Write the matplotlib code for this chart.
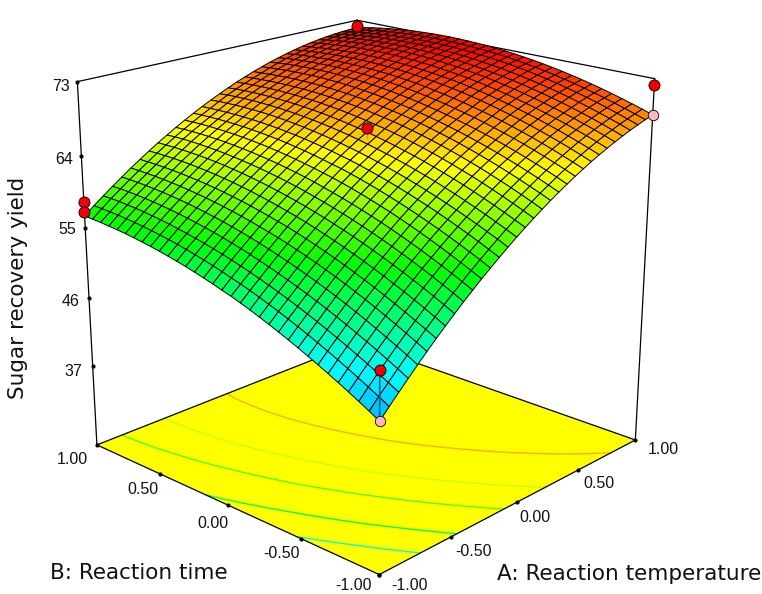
import numpy as np, matplotlib
matplotlib.use('Agg')
import matplotlib.pyplot as plt
from matplotlib.colors import LinearSegmentedColormap
plt.rcParams['font.family']=['Liberation Sans','DejaVu Sans']

a_grid=[-1,-.9375,-.875,-.8125,-.75,-.6875,-.625,-.5625,-.5,-.4375,-.375,-.3125,-.25,-.1875,-.125,-.0625,0,.0625,.125,.1875,.25,.3125,.375,.4375,.5,.5625,.625,.6875,.75,.8125,.875,.9375,1]
b_grid=list(a_grid)
# Estimated sugar recovery yield; one row per B value, one column per A value
yield_grid=[
[44.50,45.70,46.87,48.01,49.13,50.22,51.28,52.30,53.30,54.27,55.21,56.13,57.00,57.86,58.68,59.49,60.25,60.99,61.70,62.38,63.03,63.65,64.25,64.81,65.36,65.86,66.33,66.79,67.20,67.60,67.96,68.30,68.60],
[45.19,46.39,47.55,48.68,49.79,50.87,51.92,52.94,53.93,54.89,55.82,56.73,57.60,58.44,59.26,60.05,60.81,61.55,62.24,62.92,63.55,64.17,64.76,65.31,65.85,66.34,66.81,67.26,67.66,68.05,68.40,68.73,69.03],
[45.86,47.05,48.19,49.32,50.42,51.50,52.53,53.54,54.53,55.48,56.40,57.30,58.16,59.00,59.80,60.59,61.34,62.07,62.76,63.42,64.05,64.66,65.24,65.78,66.31,66.80,67.26,67.69,68.09,68.47,68.82,69.13,69.42],
[46.51,47.69,48.82,49.95,51.04,52.11,53.13,54.13,55.11,56.06,56.97,57.86,58.71,59.54,60.33,61.11,61.86,62.58,63.26,63.91,64.53,65.13,65.71,66.24,66.76,67.24,67.69,68.11,68.51,68.88,69.22,69.52,69.80],
[47.14,48.31,49.43,50.55,51.63,52.70,53.71,54.70,55.67,56.61,57.51,58.40,59.24,60.06,60.84,61.61,62.35,63.07,63.74,64.38,64.99,65.58,66.15,66.67,67.19,67.66,68.10,68.51,68.90,69.26,69.60,69.89,70.16],
[47.75,48.91,50.02,51.13,52.21,53.27,54.27,55.25,56.21,57.14,58.04,58.92,59.75,60.56,61.33,62.09,62.83,63.54,64.20,64.83,65.43,66.01,66.58,67.09,67.60,68.06,68.49,68.89,69.27,69.63,69.96,70.24,70.50],
[48.34,49.49,50.59,51.69,52.77,53.82,54.81,55.78,56.73,57.65,58.54,59.42,60.24,61.04,61.80,62.55,63.28,63.99,64.64,65.26,65.85,66.42,66.98,67.49,67.99,68.44,68.86,69.25,69.62,69.98,70.30,70.57,70.82],
[48.91,50.05,51.14,52.23,53.30,54.35,55.33,56.29,57.23,58.14,59.02,59.90,60.71,61.50,62.25,62.99,63.71,64.41,65.06,65.67,66.25,66.81,67.36,67.86,68.36,68.80,69.21,69.59,69.95,70.30,70.62,70.88,71.12],
[49.46,50.59,51.67,52.75,53.82,54.86,55.83,56.78,57.71,58.61,59.48,60.36,61.16,61.94,62.68,63.41,64.12,64.82,65.46,66.06,66.63,67.18,67.72,68.22,68.71,69.14,69.54,69.91,70.26,70.60,70.92,71.17,71.40],
[49.99,51.11,52.18,53.25,54.31,55.35,56.31,57.25,58.17,59.06,59.92,60.80,61.59,62.36,63.09,63.81,64.51,65.21,65.84,66.43,66.99,67.53,68.06,68.55,69.04,69.46,69.85,70.21,70.55,70.88,71.20,71.44,71.66],
[50.50,51.61,52.67,53.73,54.78,55.81,56.77,57.70,58.61,59.49,60.34,61.21,62.00,62.76,63.48,64.19,64.88,65.57,66.20,66.78,67.33,67.86,68.38,68.86,69.35,69.76,70.14,70.49,70.82,71.14,71.45,71.69,71.90],
[50.99,52.09,53.14,54.19,55.23,56.26,57.21,58.13,59.03,59.90,60.74,61.61,62.39,63.14,63.85,64.55,65.23,65.92,66.54,67.11,67.65,68.17,68.68,69.15,69.64,70.04,70.41,70.75,71.07,71.38,71.69,71.92,72.12],
[51.46,52.55,53.59,54.63,55.66,56.68,57.63,58.54,59.43,60.29,61.12,61.98,62.76,63.50,64.20,64.89,65.56,66.24,66.85,67.42,67.95,68.46,68.96,69.42,69.90,70.30,70.66,70.99,71.30,71.60,71.90,72.13,72.32],
[51.91,52.99,54.02,55.05,56.07,57.09,58.03,58.93,59.81,60.66,61.48,62.34,63.11,63.84,64.53,65.21,65.87,66.55,67.15,67.71,68.23,68.73,69.22,69.67,70.15,70.54,70.89,71.21,71.51,71.80,72.10,72.32,72.50],
[52.34,53.41,54.43,55.45,56.46,57.47,58.41,59.30,60.17,61.01,61.82,62.67,63.44,64.16,64.84,65.51,66.16,66.83,67.42,67.98,68.49,68.98,69.46,69.90,70.37,70.76,71.10,71.41,71.70,71.98,72.27,72.49,72.66],
[52.75,53.81,54.82,55.83,56.83,57.83,58.77,59.65,60.51,61.34,62.14,62.98,63.75,64.46,65.13,65.79,66.43,67.09,67.67,68.23,68.73,69.21,69.68,70.11,70.57,70.96,71.29,71.59,71.87,72.14,72.42,72.64,72.80],
[53.10,54.17,55.20,56.21,57.19,58.15,59.07,59.96,60.83,61.66,62.47,63.25,63.99,64.71,65.40,66.07,66.70,67.31,67.88,68.43,68.94,69.43,69.89,70.32,70.73,71.10,71.44,71.76,72.04,72.30,72.53,72.73,72.90],
[53.47,54.53,55.55,56.55,57.52,58.47,59.39,60.27,61.13,61.95,62.75,63.52,64.26,64.97,65.65,66.31,66.93,67.53,68.09,68.64,69.14,69.62,70.07,70.49,70.89,71.26,71.59,71.90,72.17,72.42,72.64,72.84,73.00],
[53.81,54.87,55.88,56.87,57.83,58.77,59.68,60.56,61.41,62.22,63.01,63.77,64.50,65.20,65.88,66.53,67.14,67.73,68.28,68.82,69.32,69.79,70.23,70.64,71.03,71.39,71.72,72.02,72.28,72.52,72.73,72.92,73.08],
[54.14,55.19,56.19,57.17,58.12,59.05,59.96,60.83,61.67,62.47,63.25,64.00,64.73,65.42,66.09,66.73,67.33,67.91,68.45,68.99,69.48,69.94,70.37,70.77,71.15,71.51,71.83,72.12,72.37,72.60,72.80,72.99,73.14],
[54.44,55.49,56.48,57.45,58.39,59.31,60.21,61.08,61.91,62.70,63.47,64.21,64.93,65.61,66.28,66.91,67.50,68.07,68.60,69.13,69.62,70.07,70.49,70.88,71.25,71.60,71.92,72.20,72.44,72.66,72.85,73.03,73.18],
[54.72,55.77,56.75,57.71,58.64,59.55,60.44,61.31,62.13,62.91,63.67,64.40,65.11,65.78,66.45,67.07,67.65,68.21,68.73,69.25,69.74,70.18,70.59,70.97,71.33,71.67,71.99,72.26,72.49,72.70,72.88,73.05,73.20],
[54.98,56.03,57.00,57.95,58.87,59.77,60.65,61.52,62.33,63.10,63.85,64.57,65.27,65.93,66.60,67.21,67.78,68.33,68.84,69.35,69.84,70.27,70.67,71.04,71.39,71.72,72.04,72.30,72.52,72.72,72.89,73.05,73.20],
[55.22,56.26,57.23,58.17,59.08,59.97,60.84,61.70,62.51,63.27,64.01,64.72,65.41,66.06,66.73,67.33,67.89,68.43,68.93,69.43,69.91,70.34,70.73,71.09,71.43,71.75,72.06,72.32,72.53,72.72,72.88,73.03,73.17],
[55.44,56.48,57.44,58.37,59.27,60.15,61.01,61.87,62.67,63.42,64.15,64.85,65.53,66.17,66.84,67.43,67.98,68.51,69.00,69.49,69.97,70.39,70.77,71.12,71.45,71.76,72.07,72.32,72.52,72.70,72.85,72.99,73.13],
[55.64,56.67,57.63,58.55,59.44,60.31,61.16,62.01,62.81,63.55,64.27,64.96,65.63,66.26,66.93,67.51,68.05,68.57,69.05,69.53,70.00,70.42,70.79,71.13,71.45,71.75,72.05,72.30,72.49,72.66,72.80,72.93,73.06],
[55.82,56.84,57.80,58.71,59.59,60.45,61.29,62.13,62.92,63.66,64.37,65.05,65.71,66.33,66.99,67.57,68.10,68.61,69.08,69.55,70.01,70.42,70.79,71.12,71.43,71.72,72.01,72.25,72.44,72.60,72.73,72.85,72.97],
[55.98,56.99,57.95,58.85,59.72,60.57,61.40,62.23,63.01,63.75,64.45,65.12,65.77,66.38,67.03,67.61,68.13,68.63,69.09,69.55,70.00,70.41,70.77,71.09,71.39,71.67,71.95,72.19,72.37,72.52,72.64,72.75,72.86],
[56.12,57.12,58.07,58.97,59.83,60.67,61.49,62.31,63.08,63.82,64.51,65.17,65.81,66.41,67.05,67.63,68.14,68.63,69.08,69.53,69.97,70.37,70.73,71.04,71.33,71.60,71.87,72.10,72.28,72.42,72.53,72.63,72.73],
[56.24,57.23,58.18,59.07,59.92,60.75,61.56,62.37,63.13,63.87,64.55,65.20,65.83,66.42,67.05,67.63,68.13,68.61,69.05,69.49,69.92,70.32,70.67,70.97,71.25,71.51,71.77,71.99,72.17,72.30,72.40,72.49,72.58],
[56.34,57.32,58.26,59.15,59.99,60.81,61.61,62.41,63.16,63.90,64.57,65.21,65.83,66.41,67.03,67.60,68.10,68.57,69.00,69.43,69.85,70.24,70.59,70.88,71.15,71.40,71.65,71.86,72.04,72.16,72.25,72.33,72.41],
[56.42,57.39,58.32,59.20,60.04,60.85,61.64,62.43,63.17,63.90,64.57,65.20,65.81,66.38,66.99,67.55,68.05,68.51,68.93,69.35,69.76,70.14,70.49,70.77,71.03,71.27,71.51,71.71,71.89,72.00,72.08,72.15,72.22],
[56.50,57.44,58.33,59.21,60.05,60.88,61.66,62.42,63.16,63.85,64.53,65.17,65.78,66.36,66.92,67.45,67.95,68.43,68.86,69.28,69.65,70.01,70.33,70.63,70.90,71.14,71.35,71.53,71.68,71.80,71.90,71.96,72.00],
]
z_floor=26.3; z_top=73
z_ticks=[73,64,55,46,37]
xy_ticks=[-1,-.5,0,.5,1]
contour_levels=[49.7,54,59,62.8,67.4]
red_pts=[(-1,1,58.2),(-1,1,57.0),(1,-1,72.2),(1,1,72.2),(-1,-1,50.3),(0,0,67.2)]
pink_pts=[(1,-1,68.6),(-1,-1,44.5)]

W,H=762,594
fig=plt.figure(figsize=(W/100,H/100),dpi=100)
ax=fig.add_subplot(111,projection='3d',computed_zorder=False)
ax.set_xlim(-1,1,view_margin=0);ax.set_ylim(-1,1,view_margin=0);ax.set_zlim(z_floor,z_top,view_margin=0)
ax.set_axis_off()
ax.view_init(19.522,-136.752)
ax.set_proj_type('persp',focal_length=0.574)
ax.set_box_aspect((1,1.018,0.983),zoom=1.106)
ax.set_position([0.471-.5,0.536-.5,1,1])
cmap=LinearSegmentedColormap.from_list('r',['#0050ff','#00ffff','#00ff00','#ffff00','#ff0000'])
vmin,vmax=40,73
A,B=np.meshgrid(a_grid,b_grid); Z=np.array(yield_grid)
ends=[-1,1]
FX,FY=np.meshgrid(ends,ends)
ax.plot_surface(FX,FY,np.full((2,2),z_floor),color='#ffff00',shade=False,linewidth=0,zorder=1)
ax.contour(A,B,Z,levels=contour_levels,zdir='z',offset=z_floor,cmap=cmap,vmin=vmin,vmax=vmax,linewidths=1,zorder=2)
def ln(xs,ys,zs,lw=.9,c='k',zo=3):
    ax.plot(xs,ys,zs,color=c,lw=lw,zorder=zo,clip_on=False)
for (x0,y0),(x1,y1) in [((-1,-1),(1,-1)),((-1,-1),(-1,1)),((1,-1),(1,1)),((-1,1),(1,1))]:
    ln([x0,x1],[y0,y1],[z_floor,z_floor])
ln([-1,1],[1,1],[z_top,z_top]);ln([1,1],[-1,1],[z_top,z_top])
ln([-1,-1],[1,1],[z_floor,z_top]);ln([1,1],[-1,-1],[z_floor,z_top]);ln([1,1],[1,1],[z_floor,z_top])
ax.plot_surface(A,B,Z,rstride=1,cstride=1,cmap=cmap,vmin=vmin,vmax=vmax,shade=False,edgecolor='k',linewidth=.7,zorder=5)
ln([-1,-1],[-1,-1],[44.5,50.3],lw=1.2,c='#00608f',zo=6)
ln([0,0],[0,0],[66,67.2],lw=1,c='#b09090',zo=6)
for t in z_ticks:
    ax.plot([-1],[1],[t],'o',color='k',ms=2,zorder=4,clip_on=False)
for t in xy_ticks:
    ax.plot([t],[-1],[z_floor],'o',color='k',ms=2,zorder=4,clip_on=False)
    ax.plot([-1],[t],[z_floor],'o',color='k',ms=2,zorder=4,clip_on=False)
for x,y,z in pink_pts:
    ax.plot([x],[y],[z],'o',mfc='#ffb6c1',mec='k',mew=.6,ms=7.5,zorder=7,clip_on=False)
for x,y,z in red_pts:
    ax.plot([x],[y],[z],'o',mfc='#f00000',mec='k',mew=.6,ms=8,zorder=8,clip_on=False)
for art in list(ax.collections)+list(ax.lines):
    art.set_clip_on(False)
def txt(x,y,s,size=11.5,**k):
    fig.text(x/W,1-y/H,s,ha=k.pop('ha','center'),va='center',fontsize=size,color='#111111',**k)
for lab,x,y in zip(['73','64','55','46','37'],[70,73,76,79,82],[87,159,230,301,372]):
    txt(x,y,lab,ha='right')
tick_lab=['1.00','0.50','0.00','-0.50','-1.00']
for lab,x,y in zip(tick_lab,[72,143,213,282,353],[459,490,523,553,585]):
    txt(x,y,lab)
for lab,x,y in zip(tick_lab,[663,599,535,474,410],[450,484,517,552,585]):
    txt(x,y,lab)
title_font=['DejaVu Sans']
txt(139,573,'B: Reaction time',size=15.5,family=title_font)
txt(629,574,'A: Reaction temperature',size=15.5,family=title_font)
txt(18,288,'Sugar recovery yield',size=15.5,rotation=90,family=title_font)
fig.savefig('out.png',dpi=100)
